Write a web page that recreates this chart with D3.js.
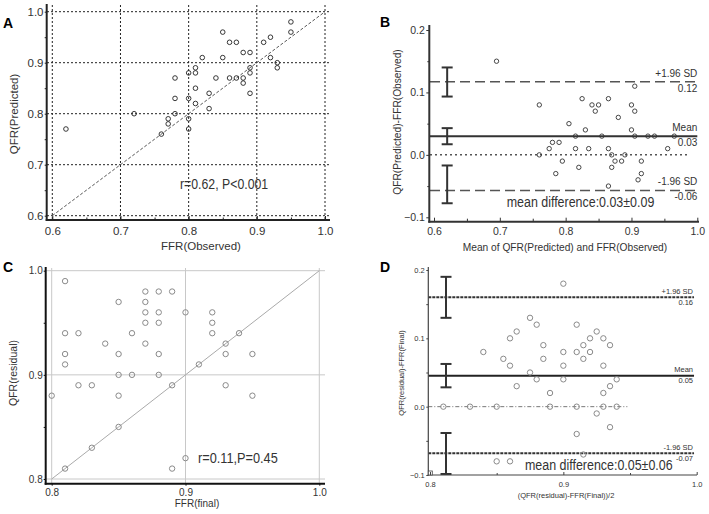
<!DOCTYPE html>
<html><head><meta charset="utf-8">
<script src="https://cdn.jsdelivr.net/npm/d3@7"></script>
<style>
body{margin:0;background:#fff;}
svg{display:block;}
text{font-family:"Liberation Sans",Arial,sans-serif;}
.plabel{font-weight:bold;}
</style></head><body>
<svg id="chart" width="709" height="514"></svg>
<script>
// ---------- DATA ----------
// Panel A: FFR(Observed) vs QFR(Predicted)
const aFFR = [0.62,0.72,0.76,0.77,0.77,0.78,0.78,0.78,0.80,0.80,0.80,0.80,0.81,0.81,0.81,0.81,0.82,0.83,0.83,0.84,0.85,0.85,0.86,0.86,0.87,0.87,0.88,0.88,0.88,0.89,0.89,0.89,0.89,0.91,0.92,0.92,0.93,0.93,0.95,0.95];
const aQFR = [0.77,0.80,0.76,0.79,0.78,0.87,0.83,0.80,0.88,0.83,0.79,0.77,0.89,0.88,0.85,0.82,0.91,0.84,0.81,0.87,0.96,0.91,0.94,0.87,0.94,0.87,0.92,0.87,0.86,0.92,0.89,0.88,0.84,0.94,0.95,0.91,0.90,0.89,0.98,0.96];
const aTicks = [0.6,0.7,0.8,0.9,1.0];
const aMinor = [0.65,0.75,0.85,0.95];
const aStat = "r=0.62, P<0.001";

// Panel B: Bland-Altman (QFR predicted vs FFR observed)
const bMean = [0.695,0.76,0.76,0.775,0.78,0.79,0.785,0.795,0.805,0.815,0.815,0.82,0.825,0.83,0.835,0.84,0.845,0.85,0.855,0.865,0.865,0.865,0.87,0.87,0.875,0.88,0.885,0.89,0.90,0.90,0.905,0.905,0.905,0.91,0.915,0.915,0.925,0.935,0.955,0.965];
const bDiff = [0.15,0.08,0.00,0.01,0.02,0.02,-0.03,-0.01,0.05,0.03,0.01,-0.02,0.09,0.04,0.01,0.08,0.07,0.08,0.03,0.09,0.01,-0.05,-0.02,0.00,-0.01,0.06,-0.01,0.00,0.08,0.04,0.07,0.11,0.03,-0.04,-0.03,-0.01,0.03,0.03,0.01,0.03];
const bXTicks = [0.6,0.7,0.8,0.9,1.0];
const bXMinor = [0.65,0.75,0.85,0.95];
const bYTicks = [-0.1,0.0,0.1,0.2];
const bYMinor = [-0.05,0.05,0.15];
const bLimits = [0.117, 0.03, -0.057];          // +1.96SD, mean, -1.96SD
const bLimitNames = ["+1.96 SD","Mean","-1.96 SD"];
const bLimitLabels = ["0.12","0.03","-0.06"];
const bCI = [[0.0934,0.140],[0.017,0.0428],[-0.0775,-0.017]];
const bCIx = 0.62;
const bZeroEnd = 0.985;
const bStat = "mean difference:0.03\u00b10.09";

// Panel C: FFR(final) vs QFR(residual)
const cFFR = [0.80,0.81,0.81,0.81,0.81,0.81,0.82,0.82,0.83,0.83,0.84,0.85,0.85,0.85,0.85,0.85,0.86,0.86,0.87,0.87,0.87,0.87,0.87,0.88,0.88,0.88,0.88,0.88,0.89,0.89,0.89,0.90,0.90,0.91,0.92,0.92,0.92,0.93,0.93,0.93,0.94,0.95,0.95];
const cQFR = [0.88,0.99,0.94,0.92,0.91,0.81,0.94,0.89,0.89,0.83,0.93,0.97,0.92,0.90,0.88,0.85,0.94,0.90,0.98,0.97,0.96,0.95,0.93,0.98,0.96,0.95,0.92,0.90,0.98,0.89,0.81,0.96,0.82,0.91,0.96,0.95,0.94,0.93,0.92,0.89,0.94,0.92,0.88];
const cTicks = [0.8,0.9,1.0];
const cMinor = [0.85,0.95];
const cStat = "r=0.11,P=0.45";

// Panel D: Bland-Altman (QFR residual vs FFR final)
const dMean = [0.81,0.83,0.85,0.84,0.85,0.855,0.86,0.86,0.86,0.865,0.865,0.875,0.875,0.88,0.88,0.885,0.885,0.89,0.89,0.90,0.90,0.90,0.90,0.91,0.91,0.91,0.91,0.915,0.915,0.915,0.92,0.92,0.925,0.925,0.93,0.93,0.93,0.93,0.935,0.935,0.935,0.94,0.94];
const dDiff = [0.00,0.00,0.00,0.08,-0.08,0.07,0.10,0.06,-0.08,0.11,0.03,0.13,0.05,0.12,0.04,0.09,0.07,0.02,0.00,0.18,0.08,0.06,0.04,0.12,0.08,0.00,-0.04,0.09,0.07,-0.07,0.10,0.08,0.11,-0.01,0.10,0.06,0.02,0.00,0.09,0.03,-0.03,0.04,0.00];
const dXTicks = [0.8,0.9,1.0];
const dXMinor = [0.85,0.95];
const dYTicks = [-0.1,0.0,0.1,0.2];
const dYMinor = [-0.05,0.05,0.15];
const dLimits = [0.160, 0.0454, -0.068];
const dLimitNames = ["+1.96 SD","Mean","-1.96 SD"];
const dLimitLabels = ["0.16","0.05","-0.07"];
const dCI = [[0.13,0.19],[0.0283,0.0625],[-0.0985,-0.0385]];
const dCIx = 0.812;
const dZeroEnd = 0.948;
const dStat = "mean difference:0.05\u00b10.06";

// ---------- DRAWING ----------
const svg = d3.select("#chart");
const fmt1 = d3.format(".1f");

function axisY(scale, x, major, minor, o) {
  const g = svg.append("g").attr("transform", `translate(${x},0)`)
    .call(d3.axisLeft(scale).tickValues(major).tickFormat(fmt1)
      .tickSizeInner(o.tick).tickSizeOuter(0).tickPadding(o.pad));
  g.attr("font-family", null).attr("font-size", o.fs);
  g.select(".domain").remove();
  g.selectAll("text").attr("fill", o.tc);
  g.selectAll("line").attr("stroke", o.lc).attr("stroke-width", o.tw);
  if (minor) {
    const m = svg.append("g").attr("transform", `translate(${x},0)`)
      .call(d3.axisLeft(scale).tickValues(minor).tickFormat("").tickSizeInner(o.mtick).tickSizeOuter(0));
    m.select(".domain").remove();
    m.selectAll("line").attr("stroke", o.lc).attr("stroke-width", o.tw);
  }
}
function axisX(scale, y, major, minor, o) {
  const g = svg.append("g").attr("transform", `translate(0,${y})`)
    .call(d3.axisBottom(scale).tickValues(major).tickFormat(fmt1)
      .tickSizeInner(o.tick).tickSizeOuter(0).tickPadding(o.pad));
  g.attr("font-family", null).attr("font-size", o.fs);
  g.select(".domain").remove();
  g.selectAll("text").attr("fill", o.tc);
  g.selectAll("line").attr("stroke", o.lc).attr("stroke-width", o.tw);
  if (minor) {
    const m = svg.append("g").attr("transform", `translate(0,${y})`)
      .call(d3.axisBottom(scale).tickValues(minor).tickFormat("").tickSizeInner(o.mtick).tickSizeOuter(0));
    m.select(".domain").remove();
    m.selectAll("line").attr("stroke", o.lc).attr("stroke-width", o.tw);
  }
}
function line(x1,y1,x2,y2,stroke,w,dash){
  const l = svg.append("line").attr("x1",x1).attr("y1",y1).attr("x2",x2).attr("y2",y2)
    .attr("stroke",stroke).attr("stroke-width",w);
  if (dash) l.attr("stroke-dasharray",dash);
  return l;
}
function text(x,y,s,fs,anchor,fill,rot,sx){
  const t = svg.append("text").attr("font-size",fs).attr("fill",fill||"#333")
    .attr("text-anchor",anchor||"start").text(s);
  if (rot) t.attr("transform",`translate(${x},${y}) rotate(-90)`);
  else if (sx) t.attr("transform",`translate(${x},${y}) scale(${sx},1)`);
  else t.attr("x",x).attr("y",y);
  return t;
}
function errbar(x, y1, y2, half, stroke, w){
  line(x,y1,x,y2,stroke,w);
  line(x-half,y1,x+half,y1,stroke,w);
  line(x-half,y2,x+half,y2,stroke,w);
}

// ===== Panel A =====
{
  const x = d3.scaleLinear().domain([0.6,1.0]).range([52.3,325]);
  const y = d3.scaleLinear().domain([0.6,1.0]).range([215.7,11.7]);
  aTicks.forEach(v => line(x(v),5,x(v),220,"#222",1,"2,2"));
  aTicks.forEach(v => line(47,y(v),330,y(v),"#222",1,"2,2"));
  line(x(0.6),y(0.6),x(1.0),y(1.0),"#555",1,"3,2");
  svg.append("g").selectAll("circle").data(aFFR).join("circle")
    .attr("cx",(d)=>x(d)).attr("cy",(d,i)=>y(aQFR[i])).attr("r",2.3)
    .attr("fill","none").attr("stroke","#222").attr("stroke-width",0.9);
  line(46.7,4,46.7,221,"#222",2);
  line(45.7,220,330,220,"#222",2);
  axisY(y,46.7,aTicks,aMinor,{tick:2,mtick:2,pad:1.2,fs:11.5,tc:"#333",lc:"#222",tw:1});
  axisX(x,220,aTicks,aMinor,{tick:-4,mtick:-2.5,pad:6.5,fs:11.5,tc:"#333",lc:"#222",tw:1});
  text(201,250,"FFR(Observed)",11.5,"middle");
  text(18,114,"QFR(Predicted)",11.5,"middle","#333",true);
  text(180,189,aStat,15,"start","#333",false,0.82);
  text(3,28,"A",14,"start","#000").attr("class","plabel");
}

// ===== Panel B =====
{
  const x = d3.scaleLinear().domain([0.6,1.0]).range([434,697.3]);
  const y = d3.scaleLinear().domain([-0.1,0.2]).range([217.3,30]);
  const x0 = 430, x1 = x(1.0);
  line(x0,y(0),x(bZeroEnd),y(0),"#555",1.5,"2,3");
  line(x0,y(bLimits[0]),x1,y(bLimits[0]),"#555",1.5,"10,5");
  line(x0,y(bLimits[1]),x1,y(bLimits[1]),"#333",2);
  line(x0,y(bLimits[2]),x1,y(bLimits[2]),"#555",1.5,"10,5");
  bCI.forEach(c => errbar(x(bCIx), y(c[0]), y(c[1]), 5.5, "#333", 2));
  svg.append("g").selectAll("circle").data(bMean).join("circle")
    .attr("cx",(d)=>x(d)).attr("cy",(d,i)=>y(bDiff[i])).attr("r",2.2)
    .attr("fill","none").attr("stroke","#333").attr("stroke-width",0.9);
  bLimits.forEach((v,i)=>{
    text(x1,y(v)-5,bLimitNames[i],10,"end","#333");
    text(x1,y(v)+10,bLimitLabels[i],10,"end","#333");
  });
  line(429.3,25,429.3,222.7,"#333",2);
  line(428.3,221.7,699,221.7,"#333",2);
  axisY(y,429.3,bYTicks,bYMinor,{tick:3,mtick:2,pad:1.5,fs:10.5,tc:"#333",lc:"#333",tw:1});
  axisX(x,221.7,bXTicks,bXMinor,{tick:-4,mtick:-3,pad:5.6,fs:10.5,tc:"#333",lc:"#333",tw:1});
  text(565,251,"Mean of QFR(Predicted) and FFR(Observed)",10.2,"middle");
  text(401,122,"QFR(Predicted)-FFR(Observed)",10.2,"middle","#333",true);
  text(506.7,206.7,bStat,15,"start","#333",false,0.83);
  text(380,27,"B",14,"start","#000").attr("class","plabel");
}

// ===== Panel C =====
{
  const x = d3.scaleLinear().domain([0.8,1.0]).range([51.7,319.3]);
  const y = d3.scaleLinear().domain([0.8,1.0]).range([479,270.7]);
  cTicks.forEach(v => line(46,y(v),325,y(v),"#c8c8c8",1));
  cTicks.forEach(v => line(x(v),268,x(v),483,"#c8c8c8",1));
  line(x(0.8),y(0.8),x(1.0),y(1.0),"#aaa",1);
  svg.append("g").selectAll("circle").data(cFFR).join("circle")
    .attr("cx",(d)=>x(d)).attr("cy",(d,i)=>y(cQFR[i])).attr("r",2.7)
    .attr("fill","none").attr("stroke","#8a8a8a").attr("stroke-width",1);
  line(45.7,267,45.7,484.7,"#111",2);
  line(44.7,483.7,325,483.7,"#111",2);
  axisY(y,45.7,cTicks,cMinor,{tick:2,mtick:2,pad:1,fs:10,tc:"#333",lc:"#111",tw:1});
  axisX(x,483.7,cTicks,null,{tick:2,mtick:2,pad:3.5,fs:10,tc:"#333",lc:"#111",tw:1});
  text(197,507,"FFR(final)",10,"middle");
  text(17,373,"QFR(residual)",10.5,"middle","#333",true);
  text(198,463.3,cStat,15,"start","#333",false,0.85);
  text(3,272,"C",14,"start","#000").attr("class","plabel");
}

// ===== Panel D =====
{
  const x = d3.scaleLinear().domain([0.8,1.0]).range([430,696.7]);
  const y = d3.scaleLinear().domain([-0.1,0.2]).range([475,270]);
  const x0 = 428.3, x1 = x(0.998);
  line(x0,y(0),x(dZeroEnd),y(0),"#777",1,"4,2,1,2");
  line(x0,y(dLimits[0]),x1,y(dLimits[0]),"#333",2,"3,1");
  line(x0,y(dLimits[1]),x1,y(dLimits[1]),"#222",2);
  line(x0,y(dLimits[2]),x1,y(dLimits[2]),"#333",2,"3,1");
  dCI.forEach(c => errbar(x(dCIx), y(c[0]), y(c[1]), 5.5, "#333", 2));
  svg.append("g").selectAll("circle").data(dMean).join("circle")
    .attr("cx",(d)=>x(d)).attr("cy",(d,i)=>y(dDiff[i])).attr("r",2.7)
    .attr("fill","none").attr("stroke","#8a8a8a").attr("stroke-width",1);
  const ofs = [[-3.7,7.5],[-4,7],[-3,7.5]];
  dLimits.forEach((v,i)=>{
    text(693,y(v)+ofs[i][0],dLimitNames[i],7.5,"end","#333");
    text(693,y(v)+ofs[i][1],dLimitLabels[i],7.5,"end","#333");
  });
  line(428.3,267,428.3,475.6,"#444",1.2);
  line(427.7,475,697,475,"#444",1.2);
  svg.append("rect").attr("x",428.3).attr("y",471).attr("width",4).attr("height",4)
    .attr("fill","#fff").attr("stroke","#444").attr("stroke-width",0.8);
  axisY(y,428.3,dYTicks,dYMinor,{tick:2,mtick:2,pad:1.5,fs:7.5,tc:"#333",lc:"#444",tw:1});
  axisX(x,475,dXTicks,dXMinor,{tick:-3,mtick:-2,pad:6.5,fs:7.5,tc:"#333",lc:"#444",tw:1});
  text(566,498,"(QFR(residual)-FFR(Final))/2",7.5,"middle");
  text(404,373,"QFR(residual)-FFR(Final)",7.5,"middle","#333",true);
  text(525,470,dStat,15,"start","#333",false,0.83);
  text(380,272,"D",14,"start","#000").attr("class","plabel");
}
</script>
</body></html>
